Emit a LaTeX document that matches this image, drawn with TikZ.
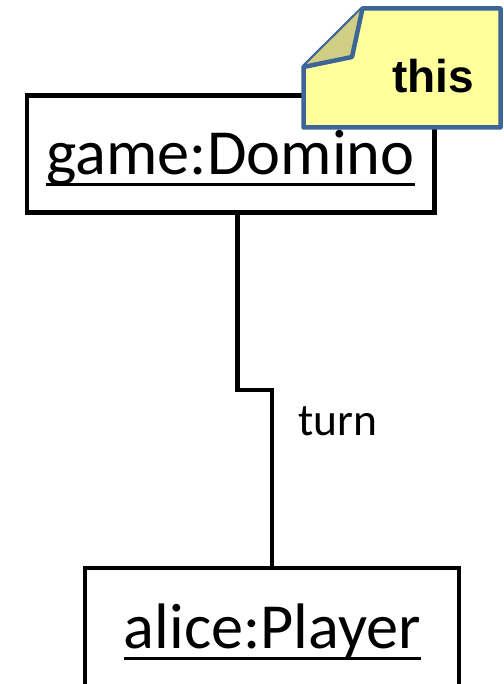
\documentclass[tikz,border=0pt]{standalone}
\usepackage{fontspec}
\setmainfont{Carlito}
\newfontfamily\notefont{Liberation Sans}
\definecolor{noteline}{HTML}{3D6597}
\definecolor{notefill}{HTML}{FFFF9C}
\definecolor{notefold}{HTML}{D0CD84}
\begin{document}
\begin{tikzpicture}[x=1pt,y=-1pt,
  objbox/.style={draw=black,line width=4.2pt,fill=white,inner sep=0pt,line join=miter},
  objname/.style={inner sep=0pt,anchor=base,font=\fontsize{64.3}{70}\selectfont},
  uline/.style={line width=3pt,line cap=butt},
  wire/.style={line width=4.2pt,line join=miter},
  rolename/.style={inner sep=0pt,anchor=base west,font=\fontsize{45.5}{50}\selectfont},
  noteshape/.style={draw=noteline,fill=notefill,line width=4.5pt,line join=round},
  notefoldshape/.style={draw=noteline,fill=notefold,line width=4.5pt,line join=round},
  notetext/.style={inner sep=0pt,anchor=base west,font=\notefont\bfseries\fontsize{46}{50}\selectfont}]
\useasboundingbox (0,0) rectangle (503,684);
\clip (0,0) rectangle (503,684);

% object boxes
\node[objbox,minimum width=407.5pt,minimum height=117pt] (dom) at (230.75,154) {};
\node[objbox,minimum width=373.5pt,minimum height=160pt] (alice) at (272,648) {};

% object names, underlined
\node[objname] (domname) at (230.5,175) {game:Domino};
\draw[uline] ([yshift=-10pt]domname.base west) -- ([yshift=-10pt]domname.base east);
\node[objname] (alicename) at (272.5,648) {alice:Player};
\draw[uline] ([yshift=-10pt]alicename.base west) -- ([yshift=-10pt]alicename.base east);

% link between the objects
\coordinate (k1) at (237.5,390);
\coordinate (k2) at (272,390);
\draw[wire] (k1 |- dom.south) -- (k1) -- (k2) -- (alice.north);
\node[rolename] (turn) at (298,435) {turn};

% note with folded corner
\coordinate (n1) at (362.5,8.5);
\coordinate (n2) at (500.5,8.5);
\coordinate (n3) at (500.5,127.5);
\coordinate (n4) at (303.5,127.5);
\coordinate (n5) at (303.5,67);
\coordinate (nf) at (352,57);
\draw[noteshape] (n1) -- (n2) -- (n3) -- (n4) -- (n5) -- cycle;
\draw[notefoldshape] (n5) -- (nf) -- (n1);
\node[notetext] (this) at (392,93) {this};
\end{tikzpicture}
\end{document}
